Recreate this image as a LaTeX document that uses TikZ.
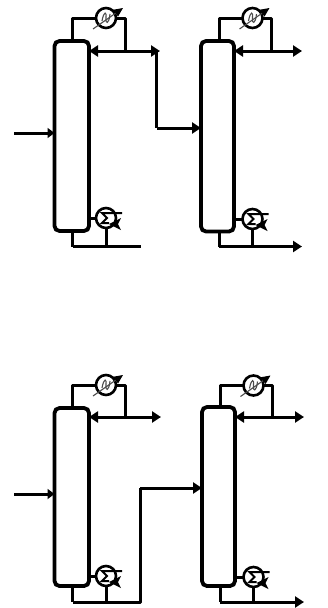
\documentclass[tikz,border=0pt]{standalone}
\usetikzlibrary{arrows.meta,calc}
\tikzset{
  x=1pt,y=-1pt,
  column/.style={draw=black,line width=3.8pt,rounded corners=5pt,fill=white,inner sep=0pt,outer sep=0pt,anchor=north west},
  exch/.style={circle,draw=black,line width=2.6pt,fill=white,inner sep=0pt,outer sep=0pt,minimum size=20pt},
  pipe/.style={draw=black,line width=3pt,line join=round},
  flow/.style={pipe,-{Triangle[length=9pt,width=11pt]}},
  flowsh/.style={pipe,-{Triangle[length=7pt,width=10pt]}},
  duplex/.style={pipe,{Triangle[length=9pt,width=11pt]}-{Triangle[length=9pt,width=11pt]}},
  thin part/.style={draw=black!70,line width=1.1pt}
}
% #1 prefix, #2 left x, #3 right x, #4 top y, #5 bottom y, #6 condenser y, #7 reboiler y, #8 reflux y, #9 bottom line y
\newcommand{\distcol}[9]{%
  \node[column,minimum width={#3-#2},minimum height={#5-#4}] (#1col) at (#2,#4) {};
  \pgfmathsetmacro{\cx}{#2+51.5}
  \pgfmathsetmacro{\lx}{#2+18}
  \pgfmathsetmacro{\rx}{#2+70.5}
  \node[exch] (#1con) at (\cx,#6) {};
  \node[exch] (#1reb) at (\cx,#7) {};
  \coordinate (#1a) at (\lx,#4);
  \coordinate (#1b) at (\lx,#6);
  \coordinate (#1c) at (\rx,#6);
  \coordinate (#1d) at (\rx,#8);
  \coordinate (#1e) at (\lx,#5);
  \coordinate (#1f) at (\lx,#9);
  \coordinate (#1g) at (\cx,#9);
  \draw[pipe] (#1a) -- (#1b) -- (#1con);
  \draw[pipe] (#1con) -- (#1c) -- (#1d);
  \draw[pipe] (#1e) -- (#1f);
  \draw[pipe] (#1reb) -- (#1g);
  \draw[pipe] (#1col.east |- #1reb) -- (#1reb);
  % condenser symbol
  \begin{scope}[shift={(#1con.center)}]
    \draw[thin part,-{Triangle[length=9pt,width=8pt,black]}] (-13,11) -- (17,-10);
    \draw[thin part] (-4,3) .. controls (-2,-8) and (1,-6) .. (0,0) .. controls (-1,6) and (3,7) .. (4,-4);
  \end{scope}
  % reboiler symbol
  \begin{scope}[shift={(#1reb.center)}]
    \draw[black,line width=2pt] (16,-5) -- (-4,-5) -- (1,0) -- (-4,5) -- (3,5);
    \fill[black] (3,6) -- (15,0) -- (12,6) -- (15,12) -- cycle;
  \end{scope}
}
\begin{document}
\begin{tikzpicture}
\useasboundingbox (0,0) rectangle (327,608);
% upper train
\distcol{a}{54.5}{89}{41}{231}{18}{218}{51}{246.5}
\distcol{b}{201}{234}{41}{231.5}{18}{219}{51}{246.5}
% lower train
\distcol{c}{54.5}{89}{408}{586}{385}{576}{417}{602}
\distcol{d}{202}{235}{407}{586}{385.5}{577}{417}{602}
% upper streams
\coordinate (feedA) at (14,133);
\draw[flowsh] (feedA) -- (acol.west |- feedA);
\coordinate (topA) at (160,51);
\draw[duplex] (acol.east |- topA) -- (topA);
\coordinate (turnA) at (156.5,51);
\coordinate (turnB) at (156.5,128);
\draw[pipe] (turnA) -- (turnB);
\draw[flow] (turnB) -- (bcol.west |- turnB);
\coordinate (botA) at (141,246.5);
\draw[pipe] (af) -- (botA);
\coordinate (topB) at (302,51);
\draw[duplex] (bcol.east |- topB) -- (topB);
\coordinate (botB) at (302,246.5);
\draw[flow] (bf) -- (botB);
% lower streams
\coordinate (feedC) at (14,494);
\draw[flowsh] (feedC) -- (ccol.west |- feedC);
\coordinate (topC) at (161,417);
\draw[duplex] (ccol.east |- topC) -- (topC);
\coordinate (botC) at (140,602);
\coordinate (riseC) at (140,488);
\draw[pipe] (cf) -- (botC) -- (riseC);
\draw[flow] (riseC) -- (dcol.west |- riseC);
\coordinate (topD) at (304,417);
\draw[duplex] (dcol.east |- topD) -- (topD);
\coordinate (botD) at (304,602);
\draw[flow] (df) -- (botD);
\end{tikzpicture}
\end{document}
